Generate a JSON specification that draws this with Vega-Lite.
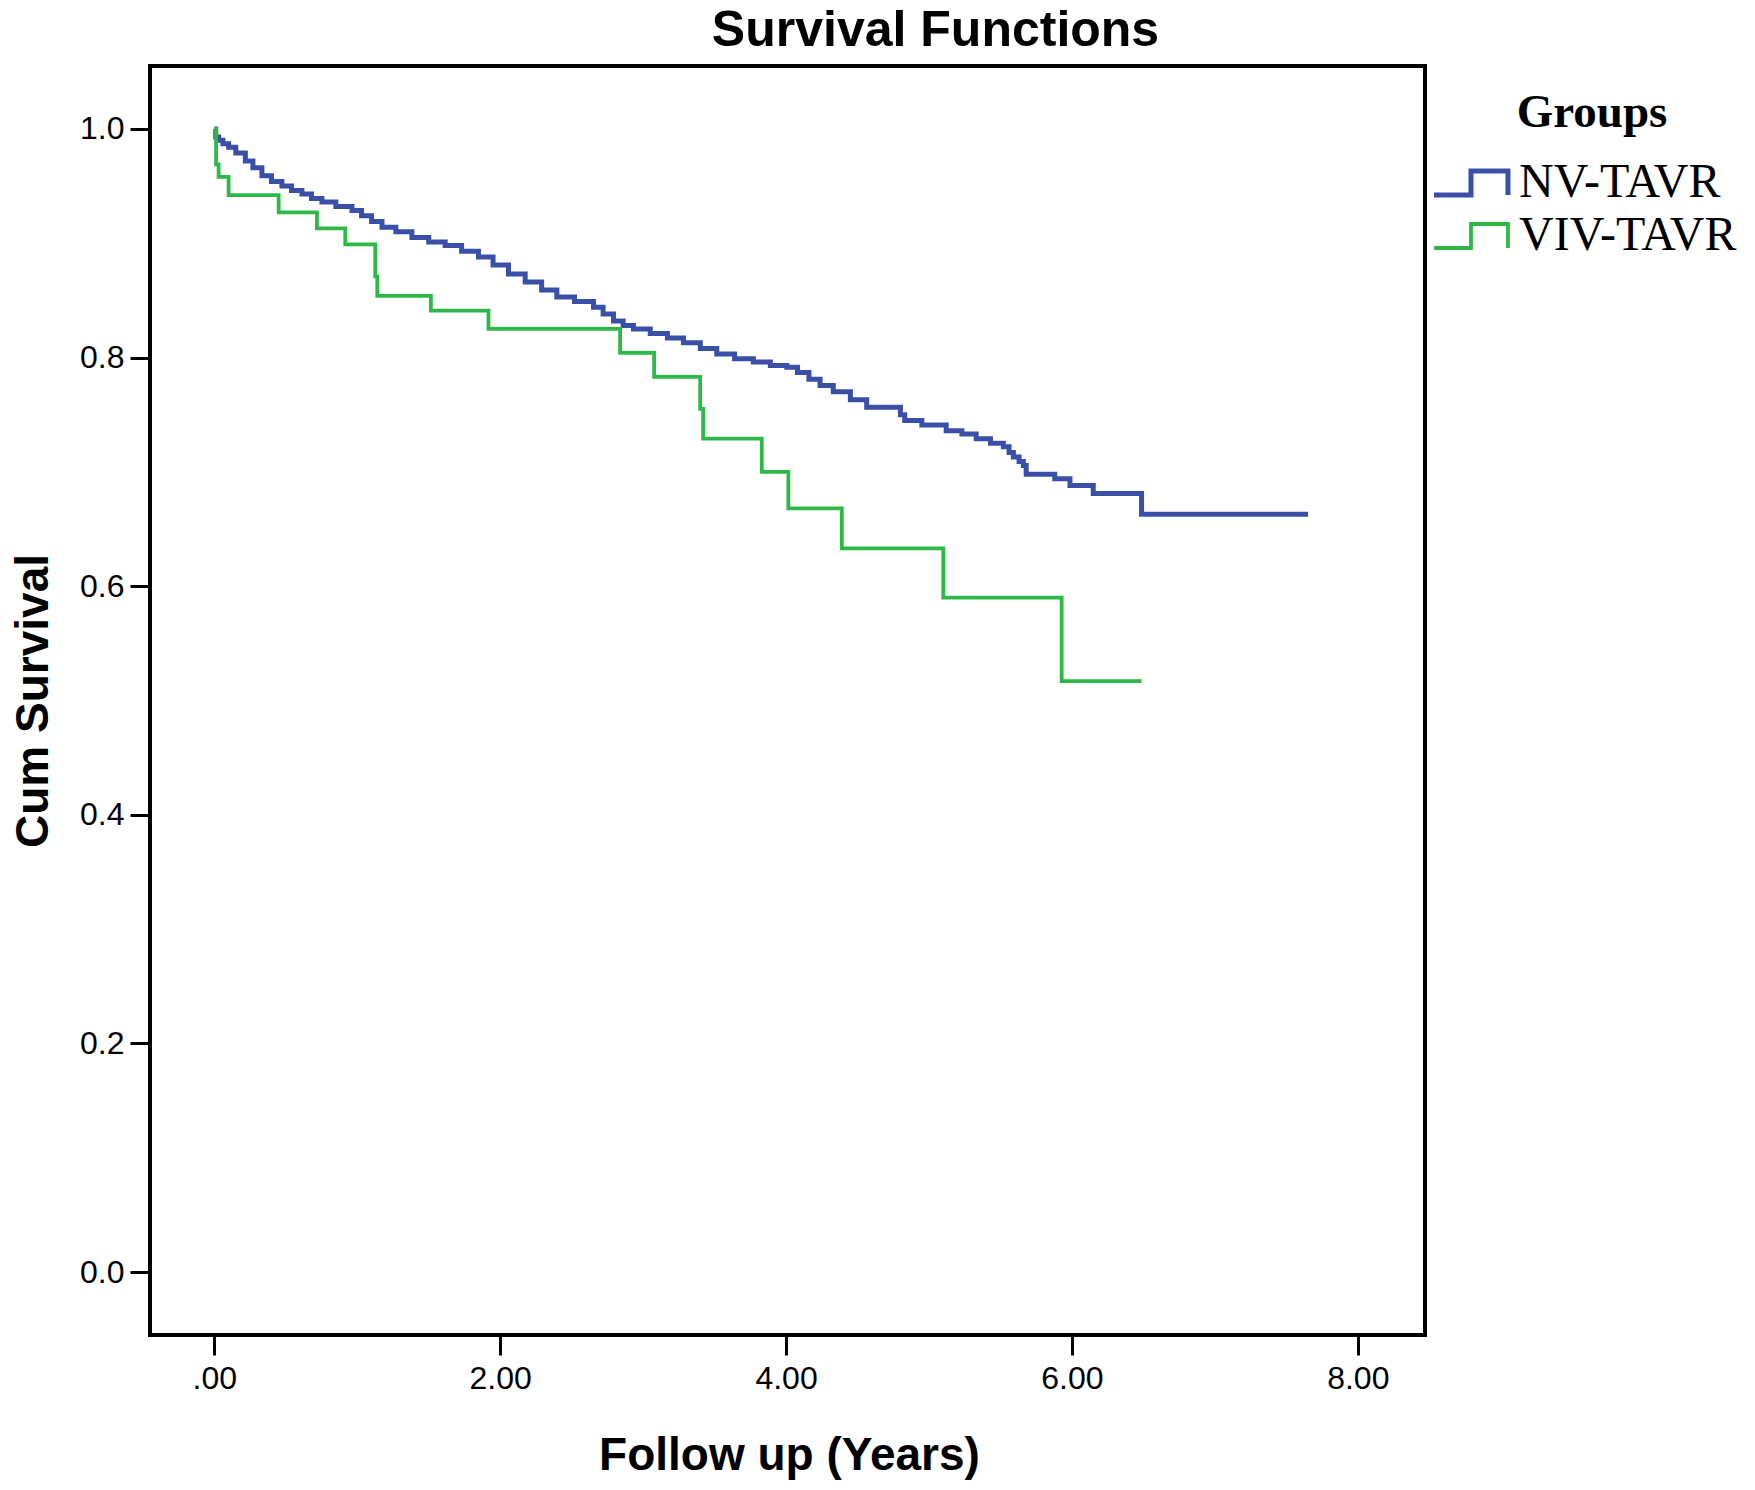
{
  "$schema": "https://vega.github.io/schema/vega-lite/v6.json",
  "width": 1275,
  "height": 1269,
  "autosize": {"type": "none"},
  "padding": {"left": 150, "top": 66, "right": 330, "bottom": 155},
  "background": "white",
  "title": {"text": "Survival Functions", "font": "Liberation Sans", "fontSize": 50, "fontWeight": "bold", "color": "black", "anchor": "middle", "frame": "group", "dx": 148, "offset": 10},
  "data": {"values": [
    {"group": "NV-TAVR", "time": 0.000, "surv": 1.000},
    {"group": "NV-TAVR", "time": 0.010, "surv": 0.993},
    {"group": "NV-TAVR", "time": 0.030, "surv": 0.990},
    {"group": "NV-TAVR", "time": 0.060, "surv": 0.987},
    {"group": "NV-TAVR", "time": 0.100, "surv": 0.984},
    {"group": "NV-TAVR", "time": 0.150, "surv": 0.979},
    {"group": "NV-TAVR", "time": 0.217, "surv": 0.972},
    {"group": "NV-TAVR", "time": 0.270, "surv": 0.966},
    {"group": "NV-TAVR", "time": 0.333, "surv": 0.959},
    {"group": "NV-TAVR", "time": 0.400, "surv": 0.954},
    {"group": "NV-TAVR", "time": 0.473, "surv": 0.950},
    {"group": "NV-TAVR", "time": 0.540, "surv": 0.946},
    {"group": "NV-TAVR", "time": 0.613, "surv": 0.943},
    {"group": "NV-TAVR", "time": 0.680, "surv": 0.939},
    {"group": "NV-TAVR", "time": 0.753, "surv": 0.936},
    {"group": "NV-TAVR", "time": 0.850, "surv": 0.932},
    {"group": "NV-TAVR", "time": 0.963, "surv": 0.9285},
    {"group": "NV-TAVR", "time": 1.030, "surv": 0.924},
    {"group": "NV-TAVR", "time": 1.100, "surv": 0.919},
    {"group": "NV-TAVR", "time": 1.173, "surv": 0.914},
    {"group": "NV-TAVR", "time": 1.270, "surv": 0.910},
    {"group": "NV-TAVR", "time": 1.382, "surv": 0.905},
    {"group": "NV-TAVR", "time": 1.500, "surv": 0.901},
    {"group": "NV-TAVR", "time": 1.615, "surv": 0.898},
    {"group": "NV-TAVR", "time": 1.730, "surv": 0.893},
    {"group": "NV-TAVR", "time": 1.848, "surv": 0.888},
    {"group": "NV-TAVR", "time": 1.950, "surv": 0.881},
    {"group": "NV-TAVR", "time": 2.058, "surv": 0.873},
    {"group": "NV-TAVR", "time": 2.175, "surv": 0.866},
    {"group": "NV-TAVR", "time": 2.290, "surv": 0.859},
    {"group": "NV-TAVR", "time": 2.396, "surv": 0.853},
    {"group": "NV-TAVR", "time": 2.520, "surv": 0.849},
    {"group": "NV-TAVR", "time": 2.653, "surv": 0.844},
    {"group": "NV-TAVR", "time": 2.720, "surv": 0.838},
    {"group": "NV-TAVR", "time": 2.793, "surv": 0.832},
    {"group": "NV-TAVR", "time": 2.860, "surv": 0.828},
    {"group": "NV-TAVR", "time": 2.932, "surv": 0.825},
    {"group": "NV-TAVR", "time": 3.050, "surv": 0.821},
    {"group": "NV-TAVR", "time": 3.170, "surv": 0.817},
    {"group": "NV-TAVR", "time": 3.282, "surv": 0.813},
    {"group": "NV-TAVR", "time": 3.400, "surv": 0.808},
    {"group": "NV-TAVR", "time": 3.515, "surv": 0.803},
    {"group": "NV-TAVR", "time": 3.640, "surv": 0.799},
    {"group": "NV-TAVR", "time": 3.771, "surv": 0.796},
    {"group": "NV-TAVR", "time": 3.890, "surv": 0.793},
    {"group": "NV-TAVR", "time": 4.005, "surv": 0.7915},
    {"group": "NV-TAVR", "time": 4.080, "surv": 0.787},
    {"group": "NV-TAVR", "time": 4.160, "surv": 0.781},
    {"group": "NV-TAVR", "time": 4.238, "surv": 0.7755},
    {"group": "NV-TAVR", "time": 4.330, "surv": 0.770},
    {"group": "NV-TAVR", "time": 4.450, "surv": 0.763},
    {"group": "NV-TAVR", "time": 4.564, "surv": 0.7565},
    {"group": "NV-TAVR", "time": 4.800, "surv": 0.750},
    {"group": "NV-TAVR", "time": 4.830, "surv": 0.745},
    {"group": "NV-TAVR", "time": 4.950, "surv": 0.741},
    {"group": "NV-TAVR", "time": 5.120, "surv": 0.736},
    {"group": "NV-TAVR", "time": 5.230, "surv": 0.733},
    {"group": "NV-TAVR", "time": 5.330, "surv": 0.729},
    {"group": "NV-TAVR", "time": 5.430, "surv": 0.725},
    {"group": "NV-TAVR", "time": 5.520, "surv": 0.722},
    {"group": "NV-TAVR", "time": 5.560, "surv": 0.717},
    {"group": "NV-TAVR", "time": 5.590, "surv": 0.713},
    {"group": "NV-TAVR", "time": 5.630, "surv": 0.709},
    {"group": "NV-TAVR", "time": 5.660, "surv": 0.7055},
    {"group": "NV-TAVR", "time": 5.680, "surv": 0.698},
    {"group": "NV-TAVR", "time": 5.880, "surv": 0.694},
    {"group": "NV-TAVR", "time": 5.986, "surv": 0.688},
    {"group": "NV-TAVR", "time": 6.149, "surv": 0.681},
    {"group": "NV-TAVR", "time": 6.487, "surv": 0.663},
    {"group": "NV-TAVR", "time": 7.652, "surv": 0.663},
    {"group": "VIV-TAVR", "time": 0.000, "surv": 1.000},
    {"group": "VIV-TAVR", "time": 0.012, "surv": 0.969},
    {"group": "VIV-TAVR", "time": 0.030, "surv": 0.958},
    {"group": "VIV-TAVR", "time": 0.100, "surv": 0.942},
    {"group": "VIV-TAVR", "time": 0.450, "surv": 0.927},
    {"group": "VIV-TAVR", "time": 0.718, "surv": 0.913},
    {"group": "VIV-TAVR", "time": 0.916, "surv": 0.899},
    {"group": "VIV-TAVR", "time": 1.126, "surv": 0.871},
    {"group": "VIV-TAVR", "time": 1.140, "surv": 0.854},
    {"group": "VIV-TAVR", "time": 1.515, "surv": 0.841},
    {"group": "VIV-TAVR", "time": 1.918, "surv": 0.825},
    {"group": "VIV-TAVR", "time": 2.839, "surv": 0.804},
    {"group": "VIV-TAVR", "time": 3.077, "surv": 0.783},
    {"group": "VIV-TAVR", "time": 3.399, "surv": 0.755},
    {"group": "VIV-TAVR", "time": 3.420, "surv": 0.729},
    {"group": "VIV-TAVR", "time": 3.830, "surv": 0.700},
    {"group": "VIV-TAVR", "time": 4.016, "surv": 0.668},
    {"group": "VIV-TAVR", "time": 4.390, "surv": 0.633},
    {"group": "VIV-TAVR", "time": 5.100, "surv": 0.590},
    {"group": "VIV-TAVR", "time": 5.928, "surv": 0.517},
    {"group": "VIV-TAVR", "time": 6.487, "surv": 0.517}
  ]},
  "mark": {"type": "line", "interpolate": "step-after"},
  "encoding": {
    "x": {
      "field": "time", "type": "quantitative",
      "scale": {"domain": [-0.45, 8.47], "nice": false, "zero": false},
      "axis": {
        "values": [0, 2, 4, 6, 8],
        "labelExpr": "datum.value == 0 ? '.00' : format(datum.value, '.2f')",
        "labelPadding": 8, "labelFlush": false, "labelOverlap": false,
        "title": "Follow up (Years)",
        "titleX": 639, "titleY": 134, "titleBaseline": "alphabetic", "titleAlign": "center"
      }
    },
    "y": {
      "field": "surv", "type": "quantitative",
      "scale": {"domain": [-0.055, 1.055], "nice": false, "zero": false},
      "axis": {
        "values": [0, 0.2, 0.4, 0.6, 0.8, 1.0],
        "format": ".1f",
        "labelPadding": 6, "labelOverlap": false,
        "title": "Cum Survival",
        "titleX": -103, "titleY": 634.5, "titleAngle": -90, "titleBaseline": "alphabetic", "titleAlign": "center"
      }
    },
    "strokeWidth": {
      "field": "group", "type": "nominal",
      "scale": {"domain": ["NV-TAVR", "VIV-TAVR"], "range": [5, 3.8]},
      "legend": null
    },
    "color": {
      "field": "group", "type": "nominal",
      "scale": {"domain": ["NV-TAVR", "VIV-TAVR"], "range": ["#3A4FA8", "#2EB848"]},
      "legend": {
        "title": "Groups",
        "orient": "none", "legendX": 1297, "legendY": 24, "padding": 0,
        "titleFont": "Liberation Serif", "titleFontSize": 47, "titleFontWeight": "bold", "titleColor": "black",
        "titleAnchor": "middle", "titlePadding": 22,
        "labelFont": "Liberation Serif", "labelFontSize": 48, "labelColor": "black", "labelOffset": 24, "labelLimit": 400,
        "symbolType": "M-3.08,1H0V-1H3.08V1", "symbolSize": 576, "symbolStrokeWidth": 4, "symbolFillColor": "transparent",
        "rowPadding": 5
      }
    }
  },
  "config": {
    "view": {"stroke": "black", "strokeWidth": 4},
    "axis": {
      "domain": false, "grid": false,
      "tickColor": "black", "tickWidth": 3, "tickSize": 20,
      "labelFont": "Liberation Sans", "labelFontSize": 32, "labelColor": "black",
      "titleFont": "Liberation Sans", "titleFontSize": 46, "titleFontWeight": "bold", "titleColor": "black"
    }
  }
}
